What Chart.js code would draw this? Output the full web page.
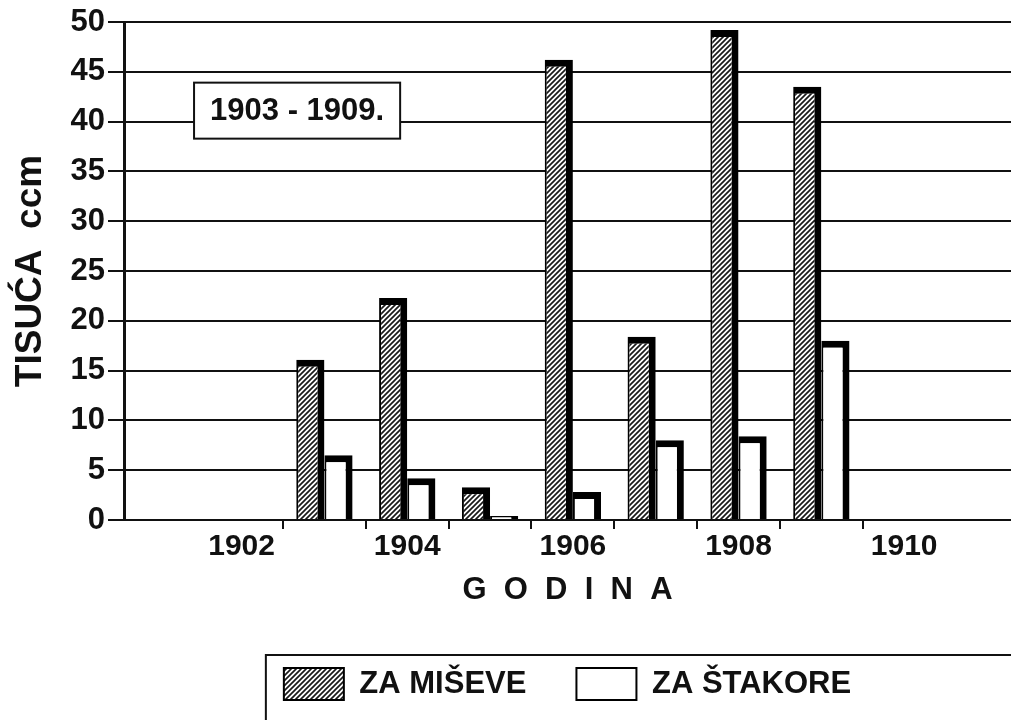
<!DOCTYPE html>
<html><head><meta charset="utf-8">
<script src="https://cdn.jsdelivr.net/npm/chart.js@4.4.1/dist/chart.umd.min.js"></script>
<style>html,body{margin:0;padding:0;background:#fff;overflow:hidden}canvas{display:block}</style>
</head><body>
<canvas id="c" width="1011" height="720"></canvas>
<script>
// ---- data ----
const years = [1903, 1904, 1905, 1906, 1907, 1908, 1909];
const miceValues = [16.1, 22.3, 3.3, 46.2, 18.4, 49.2, 43.5];
const ratValues = [6.5, 4.2, 0.4, 2.8, 8.0, 8.4, 18.0];
const xTickLabels = ['1902', '1904', '1906', '1908', '1910'];
const seriesNames = ['ZA MIŠEVE', 'ZA ŠTAKORE'];
const boxText = '1903 - 1909.';
const xTitle = 'G  O  D  I  N  A';
const yTitle = 'TISUĆA  ccm';

const FAMILY = "'Liberation Sans', Arial, Helvetica, sans-serif";
const INK = '#111';
Chart.defaults.font.family = FAMILY;
Chart.defaults.font.weight = 'bold';
Chart.defaults.color = INK;

function hatch() {
  const p = document.createElement('canvas');
  p.width = p.height = 5;
  const g = p.getContext('2d');
  g.fillStyle = '#fff'; g.fillRect(0, 0, 5, 5);
  g.strokeStyle = '#1a1a1a'; g.lineWidth = 1.7;
  g.beginPath();
  g.moveTo(0, 5); g.lineTo(5, 0);
  g.moveTo(-1, 1); g.lineTo(1, -1);
  g.moveTo(4, 6); g.lineTo(6, 4);
  g.stroke();
  return g.createPattern(p, 'repeat');
}

const labelYears = xTickLabels.map(Number);
const markValues = years.map(y => y - 0.5).concat([years[years.length - 1] + 0.5]);
const tickValues = labelYears.concat(markValues).sort((a, b) => a - b);

const boxNote = {
  id: 'boxNote',
  beforeDatasetsDraw(chart, args, o) {
    const {ctx, scales: {x, y}} = chart;
    const cx = x.getPixelForValue(o.xValue), cy = y.getPixelForValue(o.yValue);
    ctx.save();
    ctx.font = 'bold ' + o.size + 'px ' + FAMILY;
    const w = ctx.measureText(o.text).width + 2 * o.padX, h = o.height;
    ctx.fillStyle = '#fff'; ctx.fillRect(cx - w / 2, cy - h / 2, w, h);
    ctx.strokeStyle = INK; ctx.lineWidth = 2; ctx.strokeRect(cx - w / 2, cy - h / 2, w, h);
    ctx.fillStyle = INK; ctx.textAlign = 'center'; ctx.textBaseline = 'middle';
    ctx.fillText(o.text, cx, cy + 1);
    ctx.restore();
  }
};
const legendFrame = {
  id: 'legendFrame',
  afterDraw(chart) {
    const lg = chart.legend;
    if (!lg || !lg.legendHitBoxes || !lg.legendHitBoxes.length) return;
    const hb = lg.legendHitBoxes[0];
    const left = hb.left - 18, top = hb.top - 13;
    const ctx = chart.ctx;
    ctx.save();
    ctx.strokeStyle = INK; ctx.lineWidth = 2;
    ctx.beginPath();
    ctx.moveTo(left, chart.height + 5); ctx.lineTo(left, top); ctx.lineTo(chart.width + 5, top);
    ctx.stroke();
    ctx.restore();
  }
};

const barBorder = {top: 7, right: 7, left: 2, bottom: 0};

new Chart(document.getElementById('c'), {
  type: 'bar',
  data: {
    datasets: [
      {label: seriesNames[0], data: years.map((y, i) => ({x: y, y: miceValues[i]})),
       backgroundColor: hatch(), borderColor: '#000', borderWidth: barBorder},
      {label: seriesNames[1], data: years.map((y, i) => ({x: y, y: ratValues[i]})),
       backgroundColor: '#fff', borderColor: '#000', borderWidth: barBorder}
    ]
  },
  options: {
    responsive: false, animation: false,
    // ticks sit every half year, so the bar ruler uses that spacing
    categoryPercentage: 1.36, barPercentage: 1.0,
    layout: {padding: {top: 22, left: 0, right: 0, bottom: 10}},
    plugins: {
      tooltip: {enabled: false},
      boxNote: {text: boxText, xValue: 1902.67, yValue: 41.1, padX: 16, height: 56, size: 31},
      legend: {
        position: 'bottom', fullSize: false, align: 'center',
        labels: {
          boxWidth: 60, boxHeight: 32, padding: 50, color: INK, font: {size: 31, weight: 'bold'},
          generateLabels(chart) {
            const items = Chart.defaults.plugins.legend.labels.generateLabels(chart);
            items.forEach(it => { it.lineWidth = 2; it.strokeStyle = '#000'; });
            return items;
          }
        }
      }
    },
    scales: {
      x: {
        type: 'linear', min: 1900.58, max: 1911.29, offset: false, bounds: 'data',
        afterBuildTicks: s => { s.ticks = tickValues.map(v => ({value: v})); },
        afterFit: s => { s.height = 98; },
        grid: {offset: false, drawOnChartArea: false, drawTicks: true, tickLength: 9, lineWidth: 2,
               color: c => (c.tick && markValues.includes(c.tick.value)) ? INK : 'rgba(0,0,0,0)'},
        border: {display: true, color: INK, width: 2},
        ticks: {autoSkip: false, maxRotation: 0, minRotation: 0, padding: 0, color: INK, font: {size: 30, weight: 'bold'},
                callback: v => labelYears.includes(v) ? String(v) : ''},
        title: {display: true, text: xTitle, color: INK, font: {size: 31, weight: 'bold'}, padding: {top: 0, bottom: 9}}
      },
      y: {
        min: 0, max: 50,
        afterFit: s => { s.width = 124; },
        ticks: {stepSize: 5, padding: 3, color: INK, font: {size: 31, weight: 'bold'}},
        grid: {color: INK, lineWidth: 2, tickLength: 16},
        border: {display: true, color: INK, width: 3},
        title: {display: true, text: yTitle, color: INK, font: {size: 37, weight: 'bold'}, padding: {top: 9, bottom: 0}}
      }
    }
  },
  plugins: [boxNote, legendFrame]
});
</script>
</body></html>
